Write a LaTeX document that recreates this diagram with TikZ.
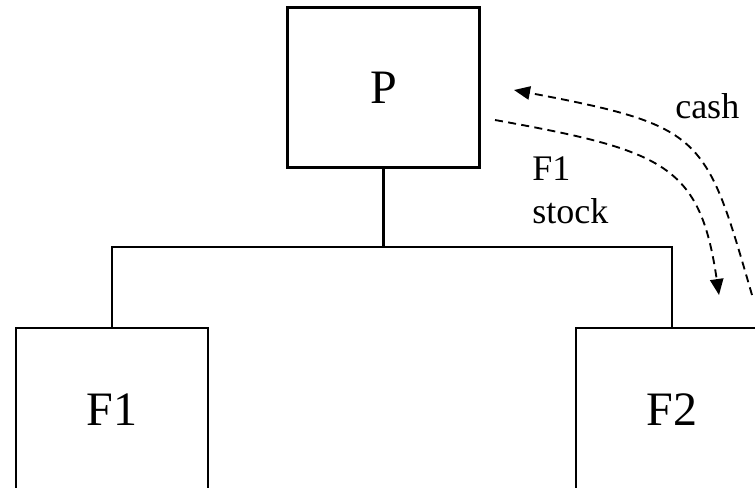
\documentclass[tikz,border=0pt]{standalone}
\usepackage{fontspec}
\setmainfont{Liberation Serif}
\usetikzlibrary{arrows.meta}
\begin{document}
\begin{tikzpicture}[x=0.75pt,y=-0.75pt,
  box/.style={draw,line width=1.7pt,minimum width=144pt,minimum height=120pt,inner sep=0pt,font=\fontsize{36}{42}\selectfont},
  fbox/.style={box,minimum height=123pt},
  link/.style={line width=1.7pt},
  flow/.style={line width=1.4pt,dash pattern=on 6pt off 4pt,-{Triangle[length=12pt,width=10pt]}},
  lab/.style={anchor=base west,inner sep=0pt,font=\fontsize{27}{32}\selectfont}]
\useasboundingbox (0,0) rectangle (755,487);
\clip (0,0) rectangle (755,487);
\node[box] (P) at (383.5,87.5) {P};
\node[fbox] (F1) at (112,410) {F1};
\node[fbox] (F2) at (672,410) {F2};
\coordinate (j) at (383.5,247);
\draw[link] (P.south) -- (j);
\draw[link] (F1.north) |- (j) -| (F2.north);
\coordinate (s1) at (495,120);
\coordinate (t1) at (719,295);
\coordinate (s2) at (752,295);
\coordinate (t2) at (514,90);
\draw[flow] (s1) .. controls (665,150.6) and (700,165) .. (t1);
\draw[flow] (s2) .. controls (705.6,135) and (705,126.1) .. (t2);
\node[lab] (cash) at (675,118) {cash};
\node[lab] (f1l) at (532,180) {F1};
\node[lab] (stk) at (532,223) {stock};
\end{tikzpicture}
\end{document}
